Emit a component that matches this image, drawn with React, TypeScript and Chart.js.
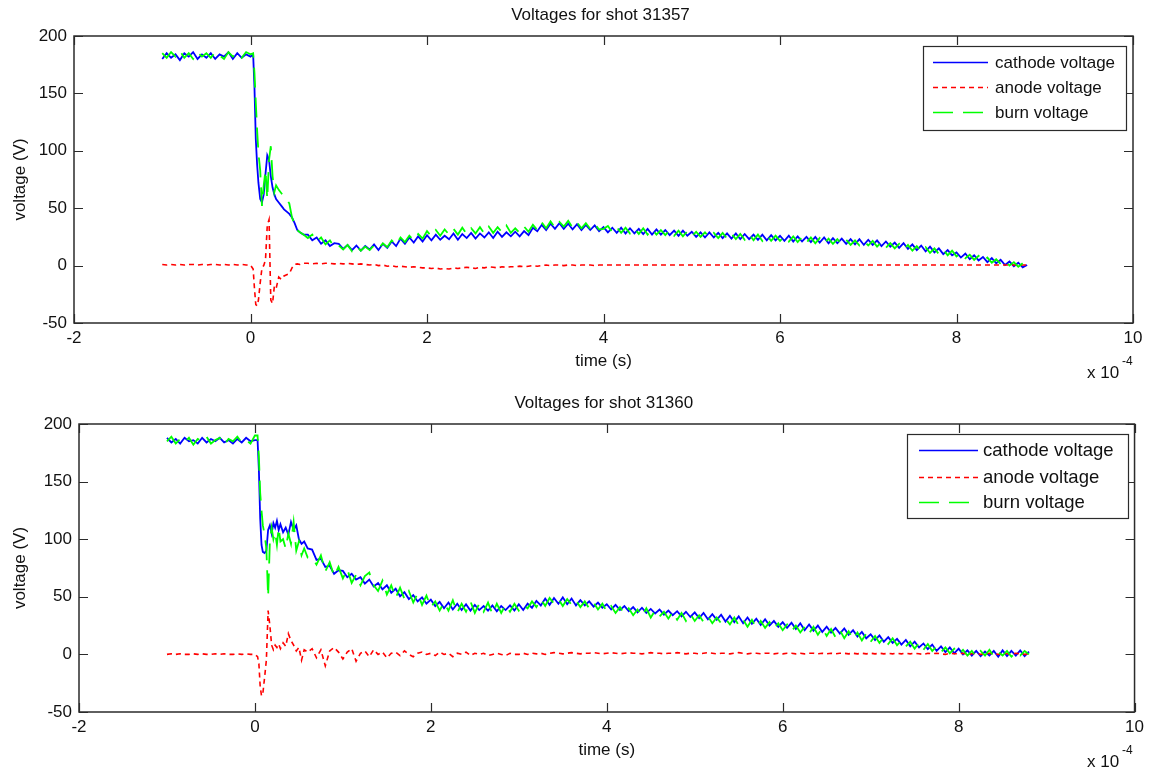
import React, { useEffect, useRef } from "react";
import { Chart, registerables } from "chart.js";

Chart.register(...registerables);

const FONT = '"Liberation Sans", Arial, Helvetica, sans-serif';

// ---- sample times (units of 1e-4 s) ----
const timeFlat = [-1, -0.95, -0.9, -0.85, -0.8, -0.75, -0.7, -0.65, -0.6, -0.55, -0.5, -0.45, -0.4, -0.35, -0.3, -0.25, -0.2, -0.15, -0.1, -0.05, 0];
const timeDrop = [0.03, 0.045, 0.06, 0.075, 0.09, 0.11, 0.13, 0.15, 0.17, 0.19, 0.21, 0.23, 0.25, 0.27, 0.29, 0.32, 0.35, 0.38, 0.41, 0.44, 0.47, 0.5, 0.53, 0.56, 0.6];
const timeDecay = [
  0.65, 0.7, 0.75, 0.8, 0.85, 0.9, 0.95,
  1, 1.05, 1.1, 1.15, 1.2, 1.25, 1.3, 1.35, 1.4, 1.45, 1.5, 1.55, 1.6, 1.65, 1.7, 1.75, 1.8, 1.85, 1.9, 1.95,
  2, 2.05, 2.1, 2.15, 2.2, 2.25, 2.3, 2.35, 2.4, 2.45, 2.5, 2.55, 2.6, 2.65, 2.7, 2.75, 2.8, 2.85, 2.9, 2.95,
  3, 3.05, 3.1, 3.15, 3.2, 3.25, 3.3, 3.35, 3.4, 3.45, 3.5, 3.55, 3.6, 3.65, 3.7, 3.75, 3.8, 3.85, 3.9, 3.95,
  4, 4.05, 4.1, 4.15, 4.2, 4.25, 4.3, 4.35, 4.4, 4.45, 4.5, 4.55, 4.6, 4.65, 4.7, 4.75, 4.8, 4.85, 4.9, 4.95,
  5, 5.05, 5.1, 5.15, 5.2, 5.25, 5.3, 5.35, 5.4, 5.45, 5.5, 5.55, 5.6, 5.65, 5.7, 5.75, 5.8, 5.85, 5.9, 5.95,
  6, 6.05, 6.1, 6.15, 6.2, 6.25, 6.3, 6.35, 6.4, 6.45, 6.5, 6.55, 6.6, 6.65, 6.7, 6.75, 6.8, 6.85, 6.9, 6.95,
  7, 7.05, 7.1, 7.15, 7.2, 7.25, 7.3, 7.35, 7.4, 7.45, 7.5, 7.55, 7.6, 7.65, 7.7, 7.75, 7.8, 7.85, 7.9, 7.95,
  8, 8.05, 8.1, 8.15, 8.2, 8.25, 8.3, 8.35, 8.4, 8.45, 8.5, 8.55, 8.6, 8.65, 8.7, 8.75, 8.8,
];
const time = [...timeFlat, ...timeDrop, ...timeDecay];

// ---- shot 31357 ----
const cathode31357 = [
  180, 185, 181, 184, 179, 185, 182, 186, 180, 184, 181, 185, 180, 184, 182, 186, 180, 185, 181, 184, 182,
  184, 155, 110, 88, 72, 58, 55, 62, 80, 96, 92, 78, 68, 62, 58, 55, 52, 49, 47, 45, 42, 37, 31, 29, 27,
  27, 22, 24.5, 19, 22, 17, 19.5,
  19, 14.5, 18, 13.5, 17.5, 13, 17, 14, 18.5, 13.5, 19, 15.5, 21, 17, 23.5, 19, 24.5, 20, 25.5, 21,
  26.5, 22, 27, 22.5, 26, 23, 28, 22.5, 27.5, 24, 28.5, 23.5, 28, 24.5, 29, 24, 29.5, 25, 29, 25.5,
  29.5, 25.5, 30, 26.5, 33, 30, 35.5, 31, 36.5, 32, 37, 32, 36.5, 31.5, 36, 31, 35.5, 31, 35, 30,
  33.5, 29, 33, 28.5, 33, 28, 32.5, 28, 32, 27.5, 32, 27, 31.5, 27, 31, 26.5, 30.5, 26, 30.5, 26,
  29.5, 25, 29, 24.5, 29, 24.5, 28.5, 24, 28, 23.5, 28, 23, 27.5, 23, 27, 22.5, 27, 22, 26.5, 22,
  26, 21.5, 26, 21, 25.5, 21, 25, 20.5, 25, 20, 24.5, 19.5, 24, 19.5, 23.5, 19, 23, 18.5, 23, 18,
  22.5, 18, 22, 17, 21, 16.5, 20, 15.5, 19.5, 14.5, 18.5, 13.5, 17.5, 12.5, 16.5, 11.5, 15, 10, 13.5, 9,
  11.5, 7, 10.5, 5.5, 9, 4.5, 7.5, 3, 6.5, 2, 5, 0.5, 3.5, -0.5, 2.5, -1.5, 0.5,
];
const anode31357 = [
  1, 0.5, 1, 0.5, 1, 0.5, 1, 1, 0.5, 1, 0.5, 1, 1, 0.5, 1, 0.5, 1, 0.5, 1, 0.5, 0.5,
  -3, -20, -34, -35, -30, -15, -2, 0, 5, 35, 40, -30, -33, -18, -20, -10, -12, -9, -8, -7, -2, 1, 1.5, 1, 2,
  2, 1.5, 2, 1.5, 2, 2, 1.5,
  2, 1.5, 2, 1.5, 1, 1.5, 1, 0.5, 1, 0, 0.5, -0.5, 0, -1, -0.5, -1, -1.5, -1, -1.5, -2,
  -2, -2.5, -2, -3, -2.5, -3, -2, -2.5, -2, -1.5, -2, -2.5, -1.5, -2, -1, -1.5, -2, -1, -1.5, -1,
  -1, -0.5, -1, -0.5, 0, -0.5, 0, 0.5, 0, 0.5, 0.5, 0, 0.5, 0.5, 0, 0.5, 0.5, 0.5, 0, 0.5,
  0.5, 0.5, 0.5, 0.5, 0.5, 0.5, 0.5, 0.5, 0.5, 0.5, 0.5, 0.5, 0.5, 0.5, 0.5, 0.5, 0.5, 0.5, 0.5, 0.5,
  0.5, 0.5, 0.5, 0.5, 0.5, 0.5, 0.5, 0.5, 0.5, 0.5, 0.5, 0.5, 0.5, 0.5, 0.5, 0.5, 0.5, 0.5, 0.5, 0.5,
  0.5, 0.5, 0.5, 0.5, 0.5, 0.5, 0.5, 0.5, 0.5, 0.5, 0.5, 0.5, 0.5, 0.5, 0.5, 0.5, 0.5, 0.5, 0.5, 0.5,
  0.5, 0.5, 0.5, 0.5, 0.5, 0.5, 0.5, 0.5, 0.5, 0.5, 0.5, 0.5, 0.5, 0.5, 0.5, 0.5, 0.5, 0.5, 0.5, 0.5,
  0.5, 0.5, 0.5, 0.5, 0.5, 0.5, 0.5, 0.5, 0.5, 0.5, 0.5, 0.5, 0.5, 0.5, 0.5, 0.5, 0.5,
];
const burn31357 = [
  185, 181, 186, 182, 187, 181, 185, 180, 186, 182, 185, 181, 186, 183, 180, 186, 182, 185, 181, 186, 184,
  185, 168, 142, 118, 98, 83, 52, 70, 83, 58, 92, 104, 78, 64, 70, 66, 63, 60, 58, 54, 42, 36, 31, 29, 27,
  24, 27, 21, 24.5, 18.5, 22, 16,
  17.5, 14, 18, 12.5, 17, 13, 16.5, 13.5, 17.5, 14.5, 19.5, 16, 22, 18, 24.5, 20.5, 26, 22, 27.5, 23.5,
  30, 25.5, 31, 26, 31.5, 27, 32, 27, 33, 27.5, 32.5, 28, 33.5, 28, 34, 28.5, 33.5, 29, 35, 28.5,
  32.5, 28.5, 34, 29.5, 35.5, 31, 37.5, 32.5, 38.5, 33, 38, 34, 39, 33, 37.5, 32.5, 37, 32, 36.5, 31.5,
  32, 34.5, 29, 33.5, 28.5, 33, 28, 32.5, 27.5, 32.5, 27, 32, 27, 31, 26.5, 31, 26, 30.5, 25.5, 30,
  25.5, 29.5, 25, 29, 24.5, 28.5, 24, 28.5, 23.5, 28, 23, 27.5, 22.5, 27.5, 22, 27, 21.5, 26.5, 21.5, 26,
  21.5, 25.5, 21, 25.5, 20.5, 25, 20, 24.5, 19.5, 24, 19, 23.5, 19, 23, 18.5, 22.5, 18, 22, 17.5, 21.5,
  17.5, 21.5, 16.5, 20.5, 15.5, 19.5, 15, 19, 14, 18, 13, 17, 12, 16, 11, 15, 10, 14, 9, 13,
  8, 11, 6.5, 9.5, 5, 8.5, 4, 7, 2.5, 5.5, 1.5, 4.5, 0, 3, -1, 2, -0.5,
];

// ---- shot 31360 ----
const cathode31360 = [
  188, 184, 187, 183, 188, 185, 186, 183, 188, 184, 187, 185, 188, 184, 186, 183, 187, 184, 188, 185, 186,
  186, 160, 118, 95, 89, 88, 90, 108, 112, 105, 114, 110, 116, 108, 113, 106, 110, 104, 115, 108, 112, 100, 96, 98, 92,
  91, 82, 83, 76, 77, 70, 73,
  72.5, 67, 70, 65, 67, 61.5, 65, 59, 62, 56.5, 60, 53.5, 57, 50.5, 54, 48, 51.5, 46, 49.5, 44,
  47.5, 42, 45.5, 40, 45, 39, 44, 38.5, 43.5, 38, 43, 38.5, 42, 38, 42.5, 37.5, 42, 38.5, 42.5, 38,
  43.5, 38.5, 44, 40.5, 46.5, 42.5, 48.5, 43, 49, 44, 49.5, 43.5, 48.5, 42.5, 47, 42.5, 46, 41.5, 45, 40.5,
  43.5, 39, 43, 38.5, 42, 37.5, 41, 36.5, 40.5, 36, 39.5, 35.5, 39, 34.5, 38, 34, 37.5, 33, 37, 32.5,
  36.5, 31.5, 36, 30.5, 35, 30, 34.5, 28.5, 33.5, 28, 33, 27, 32, 26.5, 31, 25.5, 30.5, 25, 29, 24,
  28, 23, 27.5, 22, 27, 21, 26, 20.5, 25, 19.5, 24, 19, 23, 18, 22.5, 17, 21, 15.5, 19.5, 14,
  17.5, 12.5, 16.5, 11, 15, 10, 13.5, 8.5, 12.5, 7, 11, 6, 9.5, 4.5, 8.5, 3, 7, 2, 6, 1,
  5, 0, 3.5, -1, 3, -1.5, 2.5, -1, 3, -2, 3.5, -1.5, 3, -1, 3.5, -1.5, 2.5,
];
const anode31360 = [
  0, 0.5, 0, 0.5, 0, 0, 0.5, 0, 0.5, 0, 0, 0.5, 0, 0.5, 0, 0, 0.5, 0, 0.5, 0, 0,
  -2, -8, -28, -36, -34, -20, -5, 38, 25, 8, 4, 8, 6, 9, 5, 10, 7, 18, 12, 8, 3, 6, -5, 4, 2,
  5, -3, 4, -10, 3, 6, 2,
  -4, 2, 5, -6, 1, 3, -2, 4, 0, 2, -3, 1, 2, -1, 3, 0, -2, 1, 2, 0,
  1, -1, 2, 0, 1, -2, 1, 0, 2, -1, 1, 0, 1, -1, 0, 1, 0, -1, 1, 0,
  0, 1, 0, 1, 0.5, 1, 0, 1, 1.5, 1, 0.5, 1, 1.5, 1, 0.5, 1, 1, 1.5, 1, 0.5,
  1, 1.5, 1, 0.5, 1, 1.5, 1, 1, 0.5, 1, 1.5, 1, 1, 0.5, 1, 1, 1.5, 1, 0.5, 1,
  1, 0.5, 1, 1.5, 1, 0.5, 1, 1, 0.5, 1, 1.5, 1, 0.5, 1, 1, 0.5, 1, 1, 0.5, 1,
  0.5, 1, 1, 0.5, 1, 0.5, 1, 1, 0.5, 1, 0.5, 1, 0.5, 1, 1, 0.5, 1, 0.5, 1, 0.5,
  1, 0.5, 1, 0.5, 1, 0.5, 1, 0.5, 1, 0.5, 1, 0.5, 0, 1, 0.5, 1, 0.5, 0, 1, 0.5,
  0.5, 1, 0, 0.5, 1, 0, 0.5, 1, 0.5, 0, 1, 0.5, 0, 1, 0.5, 0, 0.5,
];
const burn31360 = [
  185, 189, 183, 187, 184, 188, 182, 187, 185, 189, 183, 186, 188, 182, 187, 185, 189, 184, 186, 183, 190,
  190, 172, 140, 125, 112, 104, 92, 50, 98, 110, 100, 106, 95, 110, 98, 100, 92, 105, 96, 115, 90, 98, 86, 92, 84,
  84, 78, 86, 72, 80, 68, 76,
  66, 74, 62, 69, 60, 68, 71, 60, 55, 64, 52, 60, 49, 58, 48, 55, 45, 53, 43, 51,
  41, 46, 38, 45, 38, 47, 36, 44, 37, 46, 36, 44, 37, 45, 35, 44, 36, 43, 37, 44,
  38, 43, 40, 46, 41, 48, 42, 49, 44, 48, 42, 48, 43, 47, 41, 46, 40, 45, 39, 44,
  37, 42, 36, 41, 35, 40, 34, 39, 33, 40, 32, 38, 33, 37, 31, 37, 30, 36, 29, 35,
  29, 34, 28, 33, 27, 32, 27, 31, 26, 32, 25, 30, 24, 30, 23, 29, 23, 28, 22, 27,
  21, 26, 20, 25, 19, 24, 18, 24, 17, 23, 16, 22, 15, 21, 14, 20, 13, 19, 12, 18,
  11, 16, 10, 15, 9, 14, 8, 12, 7, 11, 5, 10, 4, 9, 3, 7, 2, 6, 1, 5,
  0, 4, -1, 3, -2, 3, -1, 4, -2, 2, -1, 3, -2, 2, -1, 3, 0,
];

const xTicks = [-2, 0, 2, 4, 6, 8, 10];
const yTicks = [-50, 0, 50, 100, 150, 200];
const seriesNames = ["cathode voltage", "anode voltage", "burn voltage"];
const shotTitles = ["Voltages for shot 31357", "Voltages for shot 31360"];
const xAxisTitle = "time (s)";
const yAxisTitle = "voltage (V)";

const COLORS = ["#0000ff", "#ff0000", "#00ff00"];
const DASHES: number[][] = [[], [5, 4], [20, 10]];
const AXIS_COLOR = "#2b2b2b";
const TEXT_COLOR = "#111111";

type Geo = {
  top: number;
  height: number;
  area: { left: number; right: number; top: number; bottom: number };
  legend: { x: number; y: number; w: number; h: number; lineX: number; lineW: number; textX: number; rows: number[]; font: number };
  expoX: number;
};

const WIDTH = 1149;

function Panel({ title, cathode, anode, burn, geo }: { title: string; cathode: number[]; anode: number[]; burn: number[]; geo: Geo }) {
  const ref = useRef<HTMLCanvasElement | null>(null);
  useEffect(() => {
    if (!ref.current) return;
    const a = geo.area;
    const pts = (vals: number[]) => vals.map((v, i) => ({ x: time[i], y: v }));
    const framePlugin = {
      id: "matlabFrame",
      afterDraw(chart: any) {
        const { ctx, chartArea: ca, scales } = chart;
        const xs = scales.x;
        const ys = scales.y;
        ctx.save();
        ctx.strokeStyle = AXIS_COLOR;
        ctx.lineWidth = 1.5;
        ctx.setLineDash([]);
        ctx.strokeRect(ca.left, ca.top, ca.right - ca.left, ca.bottom - ca.top);
        const TL = 9;
        ctx.lineWidth = 1.2;
        ctx.beginPath();
        for (const v of xTicks) {
          const px = Math.round(xs.getPixelForValue(v)) + 0.5;
          ctx.moveTo(px, ca.top);
          ctx.lineTo(px, ca.top + TL);
          ctx.moveTo(px, ca.bottom);
          ctx.lineTo(px, ca.bottom - TL);
        }
        for (const v of yTicks) {
          const py = Math.round(ys.getPixelForValue(v)) + 0.5;
          ctx.moveTo(ca.left, py);
          ctx.lineTo(ca.left + TL, py);
          ctx.moveTo(ca.right, py);
          ctx.lineTo(ca.right - TL, py);
        }
        ctx.stroke();

        ctx.fillStyle = TEXT_COLOR;
        ctx.font = `17px ${FONT}`;
        ctx.textAlign = "center";
        ctx.textBaseline = "middle";
        ctx.fillText(title, (ca.left + ca.right) / 2 - 3, ca.top - 21);
        ctx.fillText(xAxisTitle, (ca.left + ca.right) / 2, ca.bottom + 38);
        ctx.save();
        ctx.translate(20, (ca.top + ca.bottom) / 2);
        ctx.rotate(-Math.PI / 2);
        ctx.fillText(yAxisTitle, 0, 0);
        ctx.restore();
        ctx.textAlign = "left";
        ctx.fillText("x 10", geo.expoX, ca.bottom + 50);
        ctx.font = `12px ${FONT}`;
        ctx.fillText("-4", geo.expoX + 35, ca.bottom + 39);

        // legend
        const L = geo.legend;
        ctx.fillStyle = "#ffffff";
        ctx.fillRect(L.x, L.y, L.w, L.h);
        ctx.strokeStyle = AXIS_COLOR;
        ctx.lineWidth = 1.2;
        ctx.strokeRect(L.x + 0.5, L.y + 0.5, L.w, L.h);
        ctx.font = `${L.font}px ${FONT}`;
        ctx.textAlign = "left";
        ctx.textBaseline = "middle";
        seriesNames.forEach((name, i) => {
          const ry = L.rows[i] + 0.5;
          ctx.strokeStyle = COLORS[i];
          ctx.lineWidth = 1.5;
          ctx.setLineDash(DASHES[i]);
          ctx.beginPath();
          ctx.moveTo(L.lineX, ry);
          ctx.lineTo(L.lineX + L.lineW, ry);
          ctx.stroke();
          ctx.setLineDash([]);
          ctx.fillStyle = TEXT_COLOR;
          ctx.fillText(name, L.textX, L.rows[i] + 1);
        });
        ctx.restore();
      },
    };

    const tickFont = { family: FONT, size: 17 };
    const chart = new Chart(ref.current, {
      type: "line",
      data: {
        datasets: [
          { label: seriesNames[0], data: pts(cathode), borderColor: COLORS[0], borderWidth: 1.8, borderDash: DASHES[0], order: 3 },
          { label: seriesNames[1], data: pts(anode), borderColor: COLORS[1], borderWidth: 1.6, borderDash: DASHES[1], order: 2 },
          { label: seriesNames[2], data: pts(burn), borderColor: COLORS[2], borderWidth: 1.8, borderDash: DASHES[2], order: 1 },
        ],
      },
      options: {
        responsive: false,
        animation: false,
        devicePixelRatio: 1,
        events: [],
        layout: { padding: { top: a.top, right: WIDTH - a.right, left: 0, bottom: 0 } },
        elements: { point: { radius: 0 }, line: { tension: 0, fill: false } },
        plugins: { legend: { display: false }, title: { display: false }, tooltip: { enabled: false } },
        scales: {
          x: {
            type: "linear",
            min: -2,
            max: 10,
            afterFit: (s: any) => {
              s.height = geo.height - a.bottom;
            },
            grid: { display: false, drawTicks: false },
            border: { display: false },
            ticks: { stepSize: 2, padding: 5, autoSkip: false, maxRotation: 0, color: TEXT_COLOR, font: tickFont },
          },
          y: {
            type: "linear",
            min: -50,
            max: 200,
            afterFit: (s: any) => {
              s.width = a.left;
            },
            grid: { display: false, drawTicks: false },
            border: { display: false },
            ticks: { stepSize: 50, padding: 7, autoSkip: false, color: TEXT_COLOR, font: tickFont },
          },
        },
      },
      plugins: [framePlugin],
    } as any);
    return () => chart.destroy();
  }, [title, cathode, anode, burn, geo]);

  return (
    <canvas
      ref={ref}
      width={WIDTH}
      height={geo.height}
      style={{ position: "absolute", left: 0, top: geo.top, width: WIDTH, height: geo.height, display: "block" }}
    />
  );
}

const geoTop: Geo = {
  top: 0,
  height: 385,
  area: { left: 74, right: 1133, top: 36, bottom: 323 },
  legend: { x: 923, y: 46, w: 203, h: 84, lineX: 933, lineW: 55, textX: 995, rows: [62, 87, 112], font: 17 },
  expoX: 1087,
};
const geoBottom: Geo = {
  top: 385,
  height: 386,
  area: { left: 79, right: 1137, top: 39, bottom: 327 },
  legend: { x: 907, y: 49, w: 221, h: 84, lineX: 919, lineW: 59, textX: 983, rows: [65, 92, 117], font: 18.5 },
  expoX: 1087,
};

export default function App() {
  return (
    <div style={{ position: "absolute", left: 0, top: 0, width: WIDTH, height: 771, background: "#ffffff", overflow: "hidden" }}>
      <Panel title={shotTitles[0]} cathode={cathode31357} anode={anode31357} burn={burn31357} geo={geoTop} />
      <Panel title={shotTitles[1]} cathode={cathode31360} anode={anode31360} burn={burn31360} geo={geoBottom} />
    </div>
  );
}
